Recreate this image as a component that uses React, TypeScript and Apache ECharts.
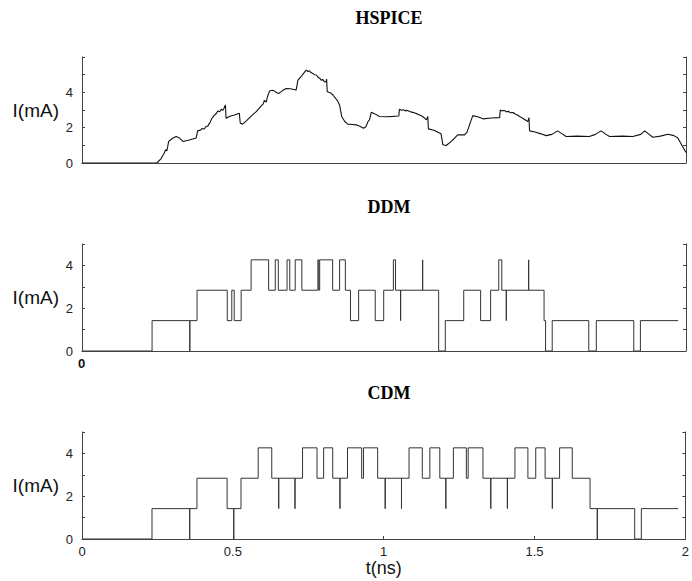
import React, { useEffect, useRef } from "react";
import * as echarts from "echarts";

// HSPICE current waveform (t in ns, I in mA)
const hspiceTime = [
  0, 0.248, 0.262, 0.272, 0.277, 0.281, 0.287, 0.3, 0.312, 0.322, 0.334, 0.355, 0.378, 0.383, 0.392, 0.397,
  0.404, 0.41, 0.417, 0.424, 0.43, 0.439, 0.445, 0.45, 0.456, 0.461, 0.466, 0.47, 0.475, 0.477, 0.49, 0.505,
  0.521, 0.524, 0.532, 0.545, 0.56, 0.577, 0.592, 0.6, 0.604, 0.61, 0.614, 0.621, 0.63, 0.637, 0.645, 0.652,
  0.664, 0.676, 0.69, 0.709, 0.715, 0.728, 0.742, 0.748, 0.753, 0.758, 0.764, 0.77, 0.776, 0.782, 0.787, 0.792,
  0.798, 0.803, 0.809, 0.81, 0.812, 0.822, 0.831, 0.845, 0.853, 0.86, 0.87, 0.88, 0.895, 0.908, 0.92, 0.932,
  0.94, 0.947, 0.952, 0.958, 0.97, 0.985, 1.01, 1.03, 1.049, 1.051, 1.058, 1.064, 1.07, 1.076, 1.085, 1.092,
  1.1, 1.11, 1.118, 1.125, 1.132, 1.14, 1.145, 1.147, 1.165, 1.189, 1.195, 1.206, 1.225, 1.244, 1.267, 1.275,
  1.283, 1.294, 1.31, 1.328, 1.355, 1.383, 1.385, 1.392, 1.398, 1.405, 1.412, 1.42, 1.428, 1.435, 1.442, 1.449,
  1.458, 1.467, 1.476, 1.48, 1.482, 1.5, 1.52, 1.537, 1.556, 1.575, 1.59, 1.603, 1.64, 1.68, 1.7, 1.719,
  1.735, 1.747, 1.79, 1.824, 1.85, 1.863, 1.878, 1.89, 1.915, 1.94, 1.96, 1.973, 1.985, 2.0,
];
const hspiceCurrent = [
  0, 0, 0.25, 0.55, 0.75, 0.68, 1.22, 1.4, 1.5, 1.42, 1.22, 1.3, 1.42, 1.82, 1.86, 1.95,
  1.92, 2.05, 2.1, 2.3, 2.52, 2.72, 2.8, 2.95, 2.9, 3.04, 2.98, 3.1, 3.28, 2.53, 2.65, 2.72,
  2.82, 2.25, 2.2, 2.4, 2.65, 2.91, 3.2, 3.35, 3.55, 3.45, 3.75, 4.07, 4.12, 4.08, 3.98, 3.94,
  4.1, 4.22, 4.2, 4.13, 4.69, 4.95, 5.26, 5.18, 5.22, 5.12, 5.07, 5.0, 4.98, 4.85, 4.8, 4.69,
  4.72, 4.58, 4.62, 4.75, 4.03, 3.98, 3.85, 3.55, 3.28, 2.63, 2.35, 2.2, 2.18, 2.16, 2.08, 1.97,
  2.05, 2.34, 2.45, 2.87, 2.78, 2.63, 2.62, 2.64, 2.66, 3.04, 2.98, 3.02, 2.95, 2.98, 2.91, 2.88,
  2.84, 2.78, 2.72, 2.66, 2.58, 2.44, 2.63, 1.93, 1.85, 1.65, 1.03, 0.99, 1.25, 1.59, 1.59, 1.75,
  2.16, 2.68, 2.62, 2.5, 2.55, 2.57, 3.0, 2.94, 2.98, 2.9, 2.92, 2.84, 2.86, 2.76, 2.72, 2.63,
  2.55, 2.45, 2.34, 2.57, 1.82, 1.75, 1.65, 1.55, 1.62, 1.82, 1.65, 1.5, 1.52, 1.5, 1.62, 1.82,
  1.62, 1.5, 1.52, 1.5, 1.62, 1.82, 1.62, 1.46, 1.52, 1.63, 1.55, 1.41, 1.05, 0.6,
];

// DDM step waveform: time of each transition and level after it
const ddmTime = [
  0, 0.232, 0.357, 0.357, 0.381, 0.481, 0.496, 0.504, 0.527, 0.56, 0.618, 0.64, 0.65, 0.679, 0.688, 0.706,
  0.728, 0.781, 0.784, 0.787, 0.83, 0.853, 0.872, 0.889, 0.916, 0.971, 0.999, 1.031, 1.038, 1.055, 1.055, 1.128,
  1.128, 1.181, 1.203, 1.264, 1.32, 1.353, 1.38, 1.39, 1.405, 1.405, 1.479, 1.479, 1.53, 1.535, 1.557, 1.678,
  1.703, 1.827, 1.849, 1.974,
];
const ddmCurrent = [
  0, 1.42, 0, 1.42, 2.84, 1.42, 2.84, 1.42, 2.84, 4.26, 2.84, 4.26, 2.84, 4.26, 2.84, 4.26,
  2.84, 4.26, 2.84, 4.26, 2.84, 4.26, 2.84, 1.42, 2.84, 1.42, 2.84, 4.26, 2.84, 1.42, 2.84, 4.26,
  2.84, 0, 1.42, 2.84, 1.42, 2.84, 4.26, 2.84, 1.42, 2.84, 4.26, 2.84, 1.42, 0, 1.42, 0,
  1.42, 0, 1.42, 1.42,
];

// CDM step waveform
const cdmTime = [
  0, 0.232, 0.357, 0.357, 0.381, 0.481, 0.503, 0.503, 0.527, 0.584, 0.629, 0.652, 0.652, 0.706, 0.706, 0.731,
  0.779, 0.801, 0.831, 0.855, 0.855, 0.88, 0.927, 0.933, 0.98, 1.005, 1.005, 1.059, 1.059, 1.084, 1.128, 1.153,
  1.186, 1.206, 1.206, 1.231, 1.274, 1.28, 1.329, 1.355, 1.355, 1.41, 1.41, 1.435, 1.478, 1.504, 1.535, 1.559,
  1.559, 1.583, 1.625, 1.684, 1.708, 1.708, 1.832, 1.854, 1.976,
];
const cdmCurrent = [
  0, 1.42, 0, 1.42, 2.84, 1.42, 0, 1.42, 2.84, 4.26, 2.84, 1.42, 2.84, 1.42, 2.84, 4.26,
  2.84, 4.26, 2.84, 1.42, 2.84, 4.26, 2.84, 4.26, 2.84, 1.42, 2.84, 1.42, 2.84, 4.26, 2.84, 4.26,
  2.84, 1.42, 2.84, 4.26, 2.84, 4.26, 2.84, 1.42, 2.84, 1.42, 2.84, 4.26, 2.84, 4.26, 2.84, 1.42,
  2.84, 4.26, 2.84, 1.42, 0, 1.42, 0, 1.42, 1.42,
];

const panelTitles = ["HSPICE", "DDM", "CDM"];
const yMax = [6, 5, 5];
const xTickLabels = ["0", "0.5", "1", "1.5", "2"];

const SANS = '"Liberation Sans", Arial, sans-serif';
const SERIF = '"Liberation Serif", "Times New Roman", serif';

export default function App() {
  const ref = useRef<HTMLDivElement>(null);

  useEffect(() => {
    if (!ref.current) return;
    const chart = echarts.init(ref.current, null, { renderer: "svg" });

    const zip = (t: number[], v: number[]) => t.map((x, i) => [x, v[i]]);
    const grids = [
      { left: 82, right: 6, top: 57, height: 106 },
      { left: 82, right: 6, top: 244, height: 107 },
      { left: 82, right: 6, top: 432, height: 107 },
    ];
    const titleY = [4, 193, 379];

    const xAxes = grids.map((_, i) => ({
      type: "value",
      gridIndex: i,
      min: 0,
      max: 2,
      interval: 0.5,
      axisLine: { show: true, onZero: false, lineStyle: { color: "#444", width: 1 } },
      axisTick: { show: i === 2, inside: true, length: 3, lineStyle: { color: "#444" } },
      axisLabel: {
        show: i === 2,
        margin: 6,
        fontSize: 13,
        fontFamily: SANS,
        color: "#222",
        formatter: (v: number) => xTickLabels[Math.round(v * 2)] ?? "",
      },
      splitLine: { show: false },
      name: i === 2 ? "t(ns)" : "",
      nameLocation: "middle",
      nameGap: 19,
      nameTextStyle: { fontSize: 18, fontFamily: SANS, color: "#111" },
    }));

    const yAxes: any[] = [];
    grids.forEach((_, i) => {
      yAxes.push({
        type: "value",
        gridIndex: i,
        position: "left",
        min: 0,
        max: yMax[i],
        interval: 1,
        axisLine: { show: true, lineStyle: { color: "#444", width: 1 } },
        axisTick: { show: true, inside: true, length: 3, lineStyle: { color: "#444" } },
        axisLabel: {
          margin: 9,
          fontSize: 13,
          fontFamily: SANS,
          color: "#222",
          formatter: (v: number) => (v % 2 === 0 && v <= 4 ? String(v) : ""),
        },
        splitLine: { show: false },
        name: "I(mA)",
        nameLocation: "middle",
        nameRotate: 0,
        nameGap: 23,
        nameTextStyle: { fontSize: 19, fontFamily: SANS, color: "#111", padding: [0, 0, 10, 0] },
      });
      yAxes.push({
        type: "value",
        gridIndex: i,
        position: "right",
        min: 0,
        max: yMax[i],
        interval: 1,
        axisLine: { show: true, lineStyle: { color: "#444", width: 1 } },
        axisTick: { show: true, inside: true, length: 3, lineStyle: { color: "#444" } },
        axisLabel: { show: false },
        splitLine: { show: false },
      });
    });

    const option = {
      animation: false,
      backgroundColor: "#fff",
      title: panelTitles.map((t, i) => ({
        text: t,
        left: 384,
        top: titleY[i],
        textAlign: "center",
        textStyle: { fontSize: 18, fontWeight: "bold", fontFamily: SERIF, color: "#000" },
      })),
      grid: grids,
      xAxis: xAxes,
      yAxis: yAxes,
      series: [
        {
          type: "line",
          xAxisIndex: 0,
          yAxisIndex: 0,
          data: zip(hspiceTime, hspiceCurrent),
          symbol: "none",
          lineStyle: { color: "#111", width: 1.1 },
        },
        {
          type: "line",
          xAxisIndex: 1,
          yAxisIndex: 2,
          step: "end",
          data: zip(ddmTime, ddmCurrent),
          symbol: "none",
          lineStyle: { color: "#333", width: 1 },
        },
        {
          type: "line",
          xAxisIndex: 2,
          yAxisIndex: 4,
          step: "end",
          data: zip(cdmTime, cdmCurrent),
          symbol: "none",
          lineStyle: { color: "#333", width: 1 },
        },
      ],
      graphic: [
        {
          type: "text",
          x: 81.5,
          y: 363,
          style: {
            text: "0",
            font: `bold 13px ${SANS}`,
            fill: "#111",
            align: "center",
            verticalAlign: "middle",
          },
        },
      ],
    };

    chart.setOption(option as any);
    return () => chart.dispose();
  }, []);

  return (
    <div
      ref={ref}
      style={{ position: "fixed", left: 0, top: 0, width: 692, height: 581, background: "#fff" }}
    />
  );
}
